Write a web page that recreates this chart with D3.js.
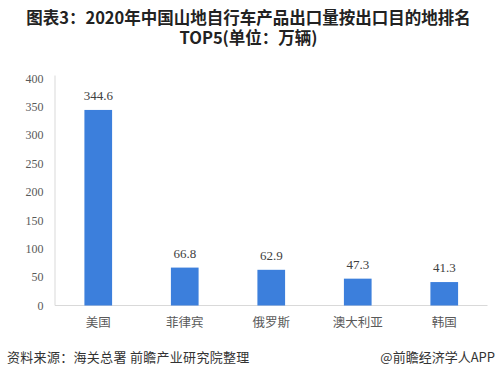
<!DOCTYPE html>
<html><head><meta charset="utf-8">
<script src="https://cdn.jsdelivr.net/npm/d3@7"></script>
<style>body{margin:0;background:#fff}svg{display:block}</style>
</head><body>
<script>
const categories = ["美国","菲律宾","俄罗斯","澳大利亚","韩国"];
const values = [344.6, 66.8, 62.9, 47.3, 41.3];
const yTicks = [0,50,100,150,200,250,300,350,400];
const titleLines = ["图表3：2020年中国山地自行车产品出口量按出口目的地排名","TOP5(单位：万辆)"];
const sourceText = "资料来源：海关总署 前瞻产业研究院整理";
const brandText = "@前瞻经济学人APP";

const W=497,H=381;
const svg=d3.select("body").append("svg").attr("width",W).attr("height",H);
const cjk='"Noto Sans CJK SC","Noto Sans",sans-serif';
const serif='"Liberation Serif","DejaVu Serif",serif';

svg.selectAll("text.title").data(titleLines).join("text").attr("class","title")
  .attr("x",W/2).attr("y",(d,i)=>24+i*20)
  .attr("text-anchor","middle").attr("font-family",cjk).attr("font-weight","bold")
  .attr("font-size",16.5).attr("fill","#222").text(d=>d);

const x=d3.scaleBand().domain(categories).range([55,487.5]).paddingInner(0.68).paddingOuter(0.34);
const y=d3.scaleLinear().domain([0,400]).range([305.5,78.5]);

svg.append("line").attr("x1",55).attr("x2",55).attr("y1",y(400)-3).attr("y2",y(0)).attr("stroke","#d9d9d9");
svg.append("line").attr("x1",55).attr("x2",487.5).attr("y1",y(0)).attr("y2",y(0)).attr("stroke","#d9d9d9");

svg.selectAll("text.ytick").data(yTicks).join("text").attr("class","ytick")
  .attr("x",43.5).attr("y",d=>y(d)).attr("dy","0.35em").attr("text-anchor","end")
  .attr("font-family",serif).attr("font-size",12).attr("fill","#595959").text(d=>d);

svg.selectAll("rect.bar").data(values).join("rect").attr("class","bar")
  .attr("x",(d,i)=>x(categories[i])).attr("width",x.bandwidth())
  .attr("y",d=>y(d)).attr("height",d=>y(0)-y(d)).attr("fill","#3c7fdc");

svg.selectAll("text.val").data(values).join("text").attr("class","val")
  .attr("x",(d,i)=>x(categories[i])+x.bandwidth()/2).attr("y",d=>y(d)-10)
  .attr("text-anchor","middle").attr("font-family",serif).attr("font-size",13).attr("fill","#404040")
  .text(d=>d.toFixed(1));

svg.selectAll("text.cat").data(categories).join("text").attr("class","cat")
  .attr("x",d=>x(d)+x.bandwidth()/2).attr("y",323).attr("dy","0.35em")
  .attr("text-anchor","middle").attr("font-family",cjk).attr("font-size",12.5).attr("fill","#595959").text(d=>d);

svg.append("text").attr("x",7).attr("y",362).attr("font-family",cjk).attr("font-size",13).attr("letter-spacing",0.3).attr("fill","#333").text(sourceText);
svg.append("text").attr("x",495).attr("y",362).attr("text-anchor","end").attr("font-family",cjk).attr("font-size",13).attr("fill","#333").text(brandText);
</script>
</body></html>
